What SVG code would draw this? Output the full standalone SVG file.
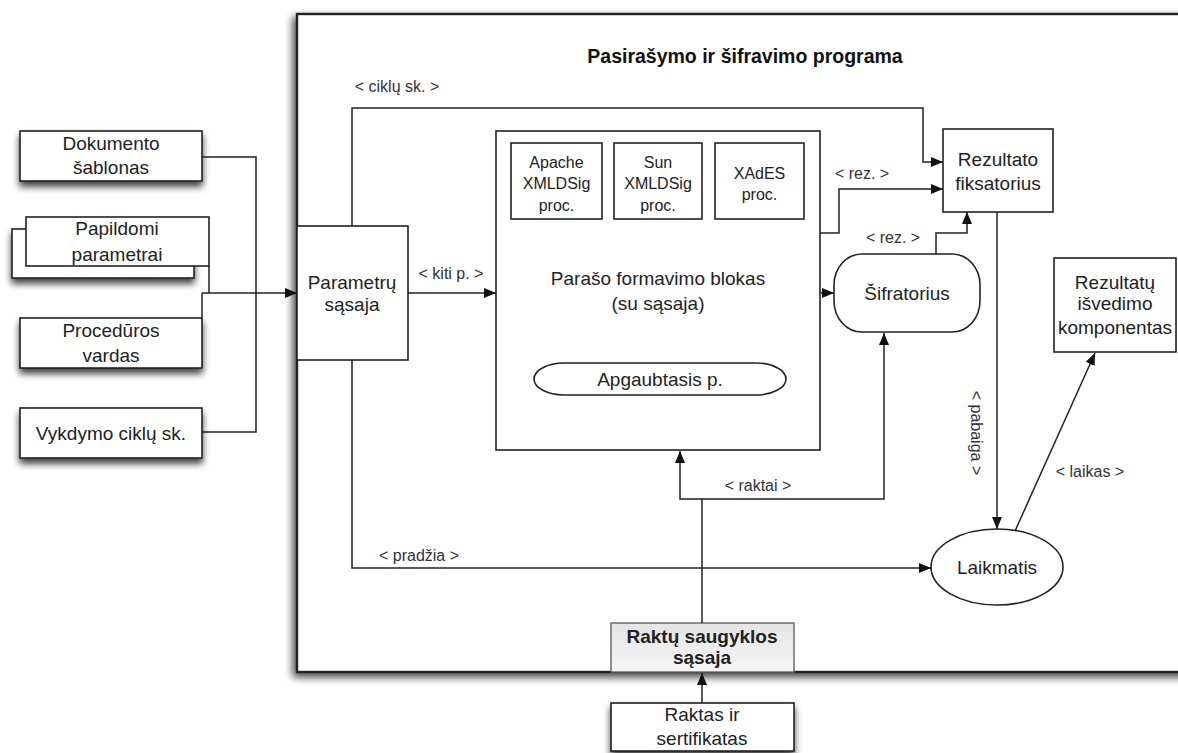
<svg xmlns="http://www.w3.org/2000/svg" width="1178" height="753" viewBox="0 0 1178 753">
  <defs>
    <filter id="shadow" x="-20%" y="-30%" width="140%" height="180%">
      <feGaussianBlur in="SourceAlpha" stdDeviation="3.5"/>
      <feOffset dx="0" dy="5" result="b"/>
      <feComponentTransfer><feFuncA type="linear" slope="0.75"/></feComponentTransfer>
      <feMerge><feMergeNode/><feMergeNode in="SourceGraphic"/></feMerge>
    </filter>
    <filter id="frameShadow" x="-5%" y="-5%" width="110%" height="110%">
      <feGaussianBlur in="SourceAlpha" stdDeviation="4"/>
      <feOffset dx="-3" dy="4" result="b"/>
      <feComponentTransfer><feFuncA type="linear" slope="0.75"/></feComponentTransfer>
      <feMerge><feMergeNode/><feMergeNode in="SourceGraphic"/></feMerge>
    </filter>
    <linearGradient id="storeFill" x1="0" y1="0" x2="0" y2="1">
      <stop offset="0" stop-color="#e4e4e4"/>
      <stop offset="1" stop-color="#f6f6f6"/>
    </linearGradient>
    <marker id="arr" viewBox="0 0 12 10" refX="12" refY="5" markerWidth="12" markerHeight="10" orient="auto" markerUnits="userSpaceOnUse">
      <path d="M0,0 L12,5 L0,10 z" fill="#111"/>
    </marker>
  </defs>
  <style>
    .box { fill: #fff; stroke: #222; stroke-width: 1.6; }
    .t { font-family: "Liberation Sans", Arial, sans-serif; font-size: 19px; fill: #222; text-anchor: middle; }
    .s { font-family: "Liberation Sans", Arial, sans-serif; font-size: 16px; fill: #222; text-anchor: middle; }
    .lbl { font-family: "Liberation Sans", Arial, sans-serif; font-size: 16px; fill: #333; text-anchor: middle; }
    .title { font-family: "Liberation Sans", Arial, sans-serif; font-size: 19.5px; font-weight: bold; fill: #111; text-anchor: middle; }
    .conn { fill: none; stroke: #222; stroke-width: 1.5; }
  </style>

  <rect width="1178" height="753" fill="#fff"/>

  <!-- program frame -->
  <g id="program">
    <rect x="297" y="14" width="920" height="658" fill="#fff" stroke="#222" stroke-width="2.4" filter="url(#frameShadow)"/>
    <text class="title" x="745" y="63">Pasirašymo ir šifravimo programa</text>
  </g>

  <!-- inputs on the left -->
  <g id="dokumento">
    <rect class="box" x="20" y="131" width="182" height="50" filter="url(#shadow)"/>
    <text class="t" x="111" y="150">Dokumento</text>
    <text class="t" x="111" y="174">šablonas</text>
  </g>
  <g id="papildomi">
    <rect class="box" x="12" y="229" width="182" height="49" filter="url(#shadow)"/>
    <rect class="box" x="26" y="217" width="183" height="49"/>
    <text class="t" x="117" y="235">Papildomi</text>
    <text class="t" x="117" y="261">parametrai</text>
  </g>
  <g id="proceduros">
    <rect class="box" x="20" y="318" width="182" height="50" filter="url(#shadow)"/>
    <text class="t" x="111" y="337">Procedūros</text>
    <text class="t" x="111" y="362">vardas</text>
  </g>
  <g id="vykdymo">
    <rect class="box" x="20" y="408" width="182" height="50" filter="url(#shadow)"/>
    <text class="t" x="111" y="440">Vykdymo ciklų sk.</text>
  </g>

  <!-- components inside the program -->
  <g id="parametru">
    <rect class="box" x="297" y="226" width="111" height="134"/>
    <text class="t" x="352" y="289" font-size="18.5" fill="#333">Parametrų</text>
    <text class="t" x="352" y="311" font-size="18.5" fill="#333">sąsaja</text>
  </g>
  <g id="paraso-blokas">
    <rect class="box" x="496" y="131" width="324" height="319"/>
    <text class="t" x="658" y="285">Parašo formavimo blokas</text>
    <text class="t" x="658" y="310">(su sąsaja)</text>
  </g>
  <g id="apache">
    <rect class="box" x="511" y="143" width="91" height="76"/>
    <text class="s" x="556.5" y="168">Apache</text>
    <text class="s" x="556.5" y="189">XMLDSig</text>
    <text class="s" x="556.5" y="211">proc.</text>
  </g>
  <g id="sun">
    <rect class="box" x="614" y="143" width="88" height="76"/>
    <text class="s" x="658" y="168">Sun</text>
    <text class="s" x="658" y="189">XMLDSig</text>
    <text class="s" x="658" y="211">proc.</text>
  </g>
  <g id="xades">
    <rect class="box" x="715" y="143" width="89" height="76"/>
    <text class="s" x="759.5" y="179">XAdES</text>
    <text class="s" x="759.5" y="200">proc.</text>
  </g>
  <g id="apgaubtasis">
    <rect class="box" x="534" y="363" width="252" height="32" rx="30" ry="16"/>
    <text class="t" x="660" y="386">Apgaubtasis p.</text>
  </g>
  <g id="sifratorius">
    <rect class="box" x="834" y="254" width="146" height="78" rx="28" ry="31"/>
    <text class="t" x="907" y="300">Šifratorius</text>
  </g>
  <g id="rezultato">
    <rect class="box" x="943" y="129" width="110" height="83"/>
    <text class="t" x="998" y="166">Rezultato</text>
    <text class="t" x="998" y="190">fiksatorius</text>
  </g>
  <g id="isvedimo">
    <rect class="box" x="1054" y="258" width="122" height="94"/>
    <text class="t" x="1115" y="289">Rezultatų</text>
    <text class="t" x="1115" y="310">išvedimo</text>
    <text class="t" x="1115" y="334">komponentas</text>
  </g>
  <g id="laikmatis">
    <ellipse class="box" cx="997" cy="567" rx="66" ry="38"/>
    <text class="t" x="997" y="574">Laikmatis</text>
  </g>
  <g id="saugykla">
    <rect x="611" y="623" width="183" height="49" fill="url(#storeFill)" stroke="#666" stroke-width="1.4"/>
    <text class="t" x="702" y="643" font-weight="bold" font-size="18" fill="#333">Raktų saugyklos</text>
    <text class="t" x="702" y="664" font-weight="bold" font-size="18" fill="#333">sąsaja</text>
  </g>
  <g id="raktas">
    <rect class="box" x="611" y="703" width="183" height="48" filter="url(#shadow)"/>
    <text class="t" x="702" y="721">Raktas ir</text>
    <text class="t" x="702" y="745">sertifikatas</text>
  </g>

  <!-- connectors -->
  <g id="connectors">
    <path class="conn" d="M202,157 H256 V432 H202"/>
    <path class="conn" d="M209,266 V293"/>
    <path class="conn" d="M202,318 V293"/>
    <path class="conn" d="M202,293 H297" marker-end="url(#arr)"/>
    <path class="conn" d="M352,226 V108 H923 V162 H943" marker-end="url(#arr)"/>
    <path class="conn" d="M408,293 H496" marker-end="url(#arr)"/>
    <path class="conn" d="M820,233 H839 V189 H943" marker-end="url(#arr)"/>
    <path class="conn" d="M820,293 H834" marker-end="url(#arr)"/>
    <path class="conn" d="M936,254 V233 H967 V212" marker-end="url(#arr)"/>
    <path class="conn" d="M997,212 V529" marker-end="url(#arr)"/>
    <path class="conn" d="M1015,531 L1095,353" marker-end="url(#arr)"/>
    <path class="conn" d="M352,360 V568 H931" marker-end="url(#arr)"/>
    <path class="conn" d="M702,623 V499 H680 V451" marker-end="url(#arr)"/>
    <path class="conn" d="M702,499 H884 V333" marker-end="url(#arr)"/>
    <path class="conn" d="M702,703 V673" marker-end="url(#arr)"/>
  </g>

  <!-- connector labels -->
  <g id="labels">
    <text class="lbl" x="397" y="92">&lt; ciklų sk. &gt;</text>
    <text class="lbl" x="451" y="279">&lt; kiti p. &gt;</text>
    <text class="lbl" x="862" y="179">&lt; rez. &gt;</text>
    <text class="lbl" x="893" y="243">&lt; rez. &gt;</text>
    <text class="lbl" transform="translate(971,433) rotate(90)" x="0" y="0">&lt; pabaiga &gt;</text>
    <text class="lbl" x="1090" y="477">&lt; laikas &gt;</text>
    <text class="lbl" x="419" y="561">&lt; pradžia &gt;</text>
    <text class="lbl" x="758" y="491">&lt; raktai &gt;</text>
  </g>
</svg>
